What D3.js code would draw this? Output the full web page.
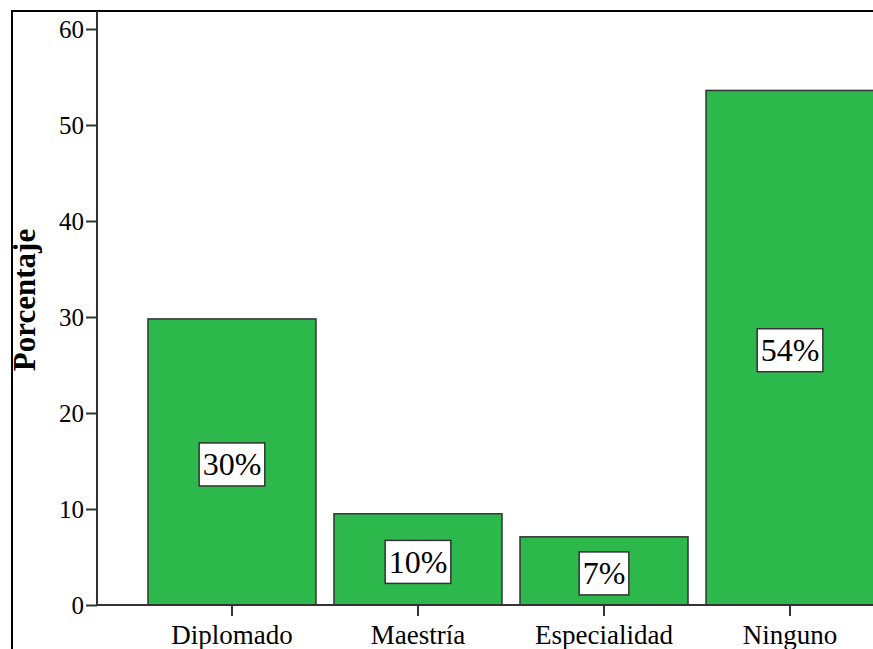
<!DOCTYPE html>
<html><head><meta charset="utf-8">
<script src="https://cdn.jsdelivr.net/npm/d3@7"></script>
<style>
html,body{margin:0;padding:0;background:#fff;}
svg{display:block;}
svg text{font-family:"Liberation Serif","Times New Roman","DejaVu Serif",serif;}
</style></head>
<body>
<svg id="chart" width="873" height="649"></svg>
<script>
const categories = ["Diplomado", "Maestría", "Especialidad", "Ninguno"];
const values = [29.8, 9.5, 7.1, 53.6];
const valueLabels = ["30%", "10%", "7%", "54%"];
const yTicks = [0, 10, 20, 30, 40, 50, 60];
const yTitle = "Porcentaje";

const W = 873, H = 649;
const frame = {x: 12, y: 11};
const plot = {left: 97, right: 925, top: 29, bottom: 605};
const serif = '"Liberation Serif","Times New Roman","DejaVu Serif",serif';
const green = "#2db84c";

const svg = d3.select("#chart");

// outer frame
svg.append("rect")
  .attr("x", frame.x).attr("y", frame.y)
  .attr("width", W + 20).attr("height", H + 20)
  .attr("fill", "#fff").attr("stroke", "#000").attr("stroke-width", 2);

const x = d3.scaleBand().domain(categories)
  .range([plot.left, plot.right]).paddingInner(0.0968).paddingOuter(0.274);
const y = d3.scaleLinear().domain([0, 60]).range([plot.bottom, plot.top]);

// bars
svg.append("g").selectAll("rect").data(categories).join("rect")
  .attr("x", d => x(d))
  .attr("y", (d, i) => y(values[i]))
  .attr("width", x.bandwidth())
  .attr("height", (d, i) => y(0) - y(values[i]))
  .attr("fill", green).attr("stroke", "#333").attr("stroke-width", 1.5);

// y axis
const yAxis = svg.append("g").attr("transform", `translate(${plot.left},0)`)
  .call(d3.axisLeft(y).tickValues(yTicks).tickSize(11).tickSizeOuter(0).tickPadding(2));
yAxis.attr("font-family", null).attr("font-size", null);
yAxis.select(".domain").remove();
yAxis.selectAll(".tick line").attr("stroke", "#333").attr("stroke-width", 2);
yAxis.selectAll(".tick text").style("font-family", serif).style("font-size", "25px")
  .attr("fill", "#000").attr("dy", "0.34em");
svg.append("line")
  .attr("x1", plot.left).attr("x2", plot.left)
  .attr("y1", frame.y).attr("y2", y(0))
  .attr("stroke", "#333").attr("stroke-width", 2);

// x axis
const xAxis = svg.append("g").attr("transform", `translate(0,${y(0)})`)
  .call(d3.axisBottom(x).tickSize(11).tickSizeOuter(0).tickPadding(10));
xAxis.attr("font-family", null).attr("font-size", null);
xAxis.select(".domain").remove();
xAxis.selectAll(".tick line").attr("stroke", "#333").attr("stroke-width", 2);
xAxis.selectAll(".tick text").style("font-family", serif).style("font-size", "27px")
  .attr("fill", "#000").attr("dy", "0.68em");
svg.append("line")
  .attr("x1", plot.left).attr("x2", W + 10)
  .attr("y1", y(0)).attr("y2", y(0))
  .attr("stroke", "#333").attr("stroke-width", 2);

// value labels
const lab = svg.append("g").selectAll("g").data(categories).join("g")
  .attr("transform", (d, i) => `translate(${x(d) + x.bandwidth() / 2},${(y(values[i]) + y(0)) / 2 + 2})`);
lab.each(function(d, i) {
  const g = d3.select(this);
  const r = g.append("rect");
  const t = g.append("text").text(valueLabels[i])
    .style("font-family", serif).style("font-size", "32px")
    .attr("text-anchor", "middle").attr("dy", "0.35em").attr("fill", "#000");
  const w = t.node().getComputedTextLength() + 7;
  r.attr("x", -w / 2).attr("y", -21).attr("width", w).attr("height", 43)
    .attr("fill", "#fff").attr("stroke", "#333").attr("stroke-width", 1.5);
});

// y title
svg.append("text")
  .attr("transform", `translate(35,${(y(0) + y(60)) / 2 - 17}) rotate(-90)`)
  .attr("text-anchor", "middle")
  .style("font-family", serif).style("font-size", "31px").style("font-weight", "bold")
  .text(yTitle);
</script>
</body></html>
